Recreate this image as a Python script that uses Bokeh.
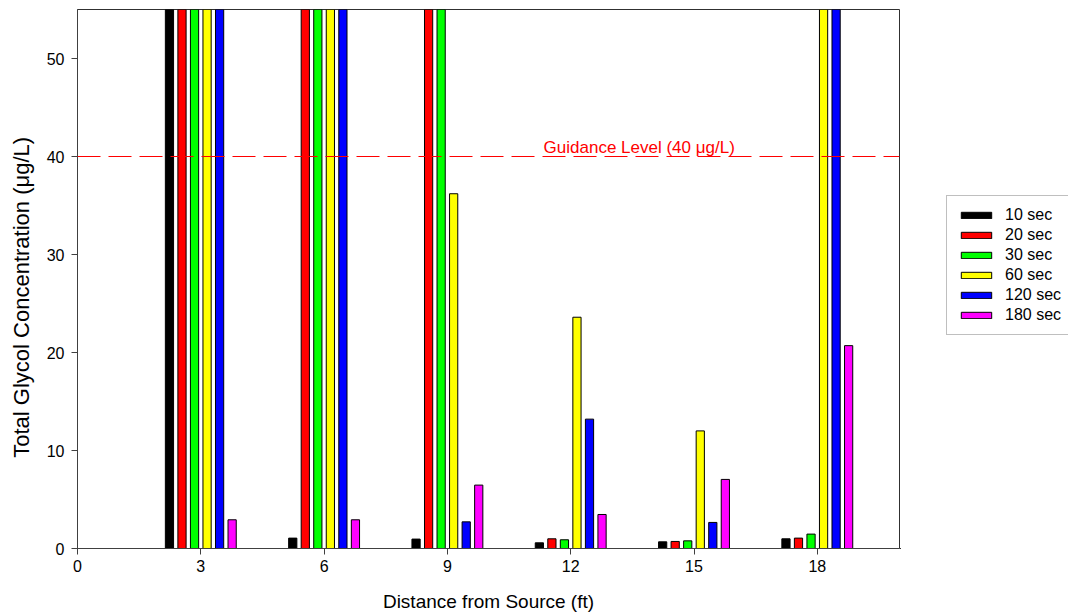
from bokeh.plotting import figure
from bokeh.models import ColumnDataSource, Legend, LegendItem, FixedTicker, Range1d, Label, Span
from bokeh.layouts import row
from bokeh.embed import file_html
from bokeh.resources import INLINE

# ---- data (bars above 55 are clipped in the original) ----
distances = [3, 6, 9, 12, 15, 18]
series = ["10 sec", "20 sec", "30 sec", "60 sec", "120 sec", "180 sec"]
colors = ["#000000", "#FF0000", "#00FF00", "#FFFF00", "#0000FF", "#FF00FF"]
v10 = [80.0, 1.06, 0.96, 0.58, 0.68, 0.99]
v20 = [80.0, 80.0, 80.0, 0.99, 0.72, 1.06]
v30 = [80.0, 80.0, 80.0, 0.89, 0.78, 1.47]
v60 = [80.0, 80.0, 36.2, 23.6, 12.0, 80.0]
v120 = [80.0, 80.0, 2.72, 13.2, 2.66, 80.0]
v180 = [2.93, 2.93, 6.47, 3.47, 7.05, 20.7]
all_values = [v10, v20, v30, v60, v120, v180]
guidance_level = 40
guidance_text = "Guidance Level (40 \u03bcg/L)"
x_ticks = [0, 3, 6, 9, 12, 15, 18]
y_ticks = [0, 10, 20, 30, 40, 50]

FONT = "Liberation Sans"
pitch = 0.305
bar_w = 0.2

p = figure(width=900, height=616, x_range=Range1d(0, 20), y_range=Range1d(0, 55),
           output_backend="svg", toolbar_location=None,
           min_border_left=77, min_border_right=1, min_border_top=9, min_border_bottom=68)
p.background_fill_color = "white"
p.border_fill_color = "white"
p.xgrid.visible = False
p.ygrid.visible = False
p.outline_line_color = "#303030"
p.outline_line_width = 1

for i, (name, col, vals) in enumerate(zip(series, colors, all_values)):
    off = (i - 2.5) * pitch
    src = ColumnDataSource(dict(x=[d + off for d in distances], top=vals))
    p.vbar(x="x", top="top", bottom=0, width=bar_w, source=src,
           fill_color=col, line_color="#000000", line_width=1)

span = Span(location=guidance_level, dimension="width", line_color="#FF0000",
            line_width=1, line_dash="23 8")
p.add_layout(span)
lbl = Label(x=11.34, y=guidance_level, text=guidance_text, text_color="#FF0000",
            text_font=FONT, text_font_size="17px", text_baseline="bottom", y_offset=0)
p.add_layout(lbl)

for ax in (p.xaxis[0], p.yaxis[0]):
    ax.axis_line_color = "#404040"
    ax.major_tick_line_color = "#404040"
    ax.major_tick_out = 6
    ax.major_tick_in = 0
    ax.minor_tick_line_color = None
    ax.major_label_text_font = FONT
    ax.major_label_text_font_size = "16px"
    ax.major_label_text_color = "#000000"
    ax.axis_label_text_font = FONT
    ax.axis_label_text_font_style = "normal"
    ax.axis_label_text_color = "#000000"

p.xaxis.ticker = FixedTicker(ticks=x_ticks)
p.yaxis.ticker = FixedTicker(ticks=y_ticks)
p.xaxis.axis_label = "Distance from Source (ft)"
# trailing no-break spaces shift the centred title slightly downwards, as in the original
p.yaxis.axis_label = "Total Glycol Concentration (\u03bcg/L)" + "\u00a0" * 6
p.xaxis.axis_label_text_font_size = "19px"
p.yaxis.axis_label_text_font_size = "22px"
p.xaxis.major_label_standoff = 5
p.xaxis.axis_label_standoff = 16
p.yaxis.major_label_standoff = 7
p.yaxis.axis_label_standoff = 10

# ---- legend panel (separate figure to the right of the plot) ----
lg = figure(width=168, height=616, x_range=Range1d(0, 1), y_range=Range1d(0, 1),
            output_backend="svg", toolbar_location=None,
            min_border_left=0, min_border_right=0, min_border_top=0, min_border_bottom=0)
lg.axis.visible = False
lg.xgrid.visible = False
lg.ygrid.visible = False
lg.outline_line_color = None
lg.background_fill_color = "white"
lg.border_fill_color = "white"

items = []
for name, col in zip(series, colors):
    r = lg.vbar(x=[-5], top=[0], bottom=0, width=0.1, fill_color=col,
                line_color="#000000", line_width=1)
    items.append(LegendItem(label=name, renderers=[r]))

legend = Legend(items=items, location=(46, 213))
legend.border_line_color = "#808080"
legend.border_line_width = 1
legend.background_fill_color = "white"
legend.background_fill_alpha = 1
legend.label_text_font = FONT
legend.label_text_font_size = "16px"
legend.label_text_color = "#000000"
legend.glyph_width = 38
legend.glyph_height = 8
legend.label_standoff = 10
legend.label_height = 18
legend.spacing = 2
legend.padding = 10
legend.margin = 0
lg.add_layout(legend, "center")

layout = row(p, lg)
open("out.html", "w").write(file_html(layout, INLINE))
